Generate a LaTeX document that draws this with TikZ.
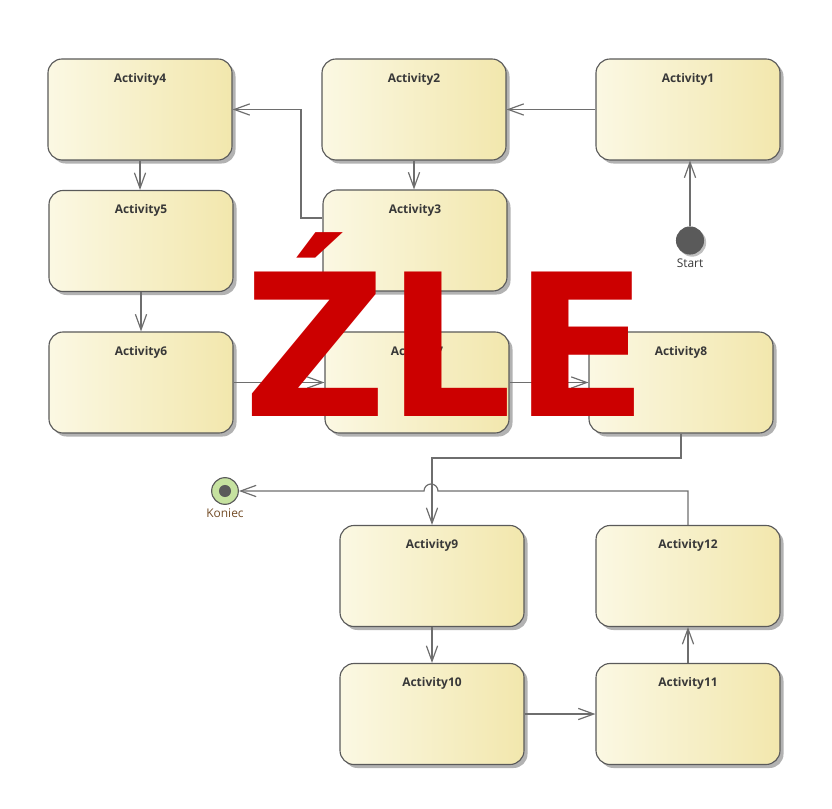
\documentclass[tikz,border=0pt]{standalone}
\usepackage{fontspec}
\setsansfont{Open Sans}
\newfontfamily\warnfont{DejaVu Sans Bold}
\usetikzlibrary{arrows.meta,shadows}

\definecolor{actleft}{HTML}{FBF8E3}
\definecolor{actright}{HTML}{F2E7AD}
\definecolor{edgegray}{HTML}{6E6E6E}
\definecolor{outline}{HTML}{5A5A5A}
\definecolor{nametext}{HTML}{383838}
\definecolor{endgreen}{HTML}{C6E2A0}
\definecolor{wrongred}{HTML}{CC0000}

\tikzstyle{activity}=[draw=outline, line width=0.8pt, rounded corners=10pt, minimum width=46mm, minimum height=25.25mm, left color=actleft, right color=actright, drop shadow={shadow xshift=2.5pt, shadow yshift=-2.5pt, opacity=0.3, fill=black}]
\tikzstyle{actname}=[font=\sffamily\bfseries\fontsize{8.5}{10}\selectfont, text=nametext, anchor=north, yshift=-7pt]
\tikzstyle{startdot}=[circle, fill=outline, minimum size=20pt, inner sep=0pt, drop shadow={shadow xshift=1.5pt, shadow yshift=-1.5pt, opacity=0.25, fill=black}]
\tikzstyle{enddot}=[circle, draw=outline, line width=0.8pt, fill=endgreen, minimum size=19pt, inner sep=0pt, path picture={\fill[outline] (path picture bounding box.center) circle (4.3pt);}]
\tikzstyle{dotname}=[font=\sffamily\fontsize{8.5}{10}\selectfont, label distance=-1pt]
\tikzstyle{flow}=[draw=edgegray, line width=0.85pt, -{Straight Barb[length=11pt, width=8pt]}]
\tikzstyle{wrongtext}=[text=wrongred, font=\warnfont\fontsize{141}{150}\selectfont, anchor=base, inner sep=0pt]

\begin{document}
\begin{tikzpicture}[x=0.25mm, y=-0.25mm]
      \useasboundingbox (0,0) rectangle (832,809);

      \node[activity, label={[actname]north:Activity4}] (a4) at (140, 109.5) {};
      \node[activity, label={[actname]north:Activity2}] (a2) at (414, 109.5) {};
      \node[activity, label={[actname]north:Activity1}] (a1) at (688, 109.5) {};
      \node[activity, label={[actname]north:Activity5}] (a5) at (141, 241) {};
      \node[activity, label={[actname]north:Activity3}] (a3) at (415, 240.5) {};
      \node[activity, label={[actname]north:Activity6}] (a6) at (141, 382.5) {};
      \node[activity, label={[actname]north:Activity7}] (a7) at (417, 382.5) {};
      \node[activity, label={[actname]north:Activity8}] (a8) at (681, 382.5) {};
      \node[activity, label={[actname]north:Activity9}] (a9) at (432, 576) {};
      \node[activity, label={[actname]north:Activity12}] (a12) at (688, 576) {};
      \node[activity, label={[actname]north:Activity10}] (a10) at (432, 714) {};
      \node[activity, label={[actname]north:Activity11}] (a11) at (688, 714) {};

      \node[startdot, label={[dotname, text=nametext]south:Start}] (start) at (690, 240.5) {};
      \node[enddot, label={[dotname, text=brown!60!black]south:Koniec}] (koniec) at (225, 491) {};

      \draw[flow] (start) -- (start |- a1.south);
      \draw[flow] (a1.west) -- (a2.east);
      \draw[flow] (a2.south) -- (a2.south |- a3.north);
      \draw[flow] (a3.west |- 0,218) -- (301,218) |- (a4.east);
      \draw[flow] (a4.south) -- (a4.south |- a5.north);
      \draw[flow] (a5.south) -- (a5.south |- a6.north);
      \draw[flow] (a6.east) -- (a7.west);
      \draw[flow] (a7.east) -- (a8.west);
      \draw[flow] (a8.south) -- (a8.south |- 0,458) -| (a9.north);
      \draw[flow] (a9.south) -- (a9.south |- a10.north);
      \draw[flow] (a10.east) -- (a11.west);
      \draw[flow] (a11.north) -- (a11.north |- a12.south);
      \draw[flow] (a12.north) |- (438,491) arc[start angle=0, end angle=-180, radius=7] -- (koniec.east);

      \node[wrongtext] (wrong) at (446, 416) {ŹLE};
\end{tikzpicture}
\end{document}
